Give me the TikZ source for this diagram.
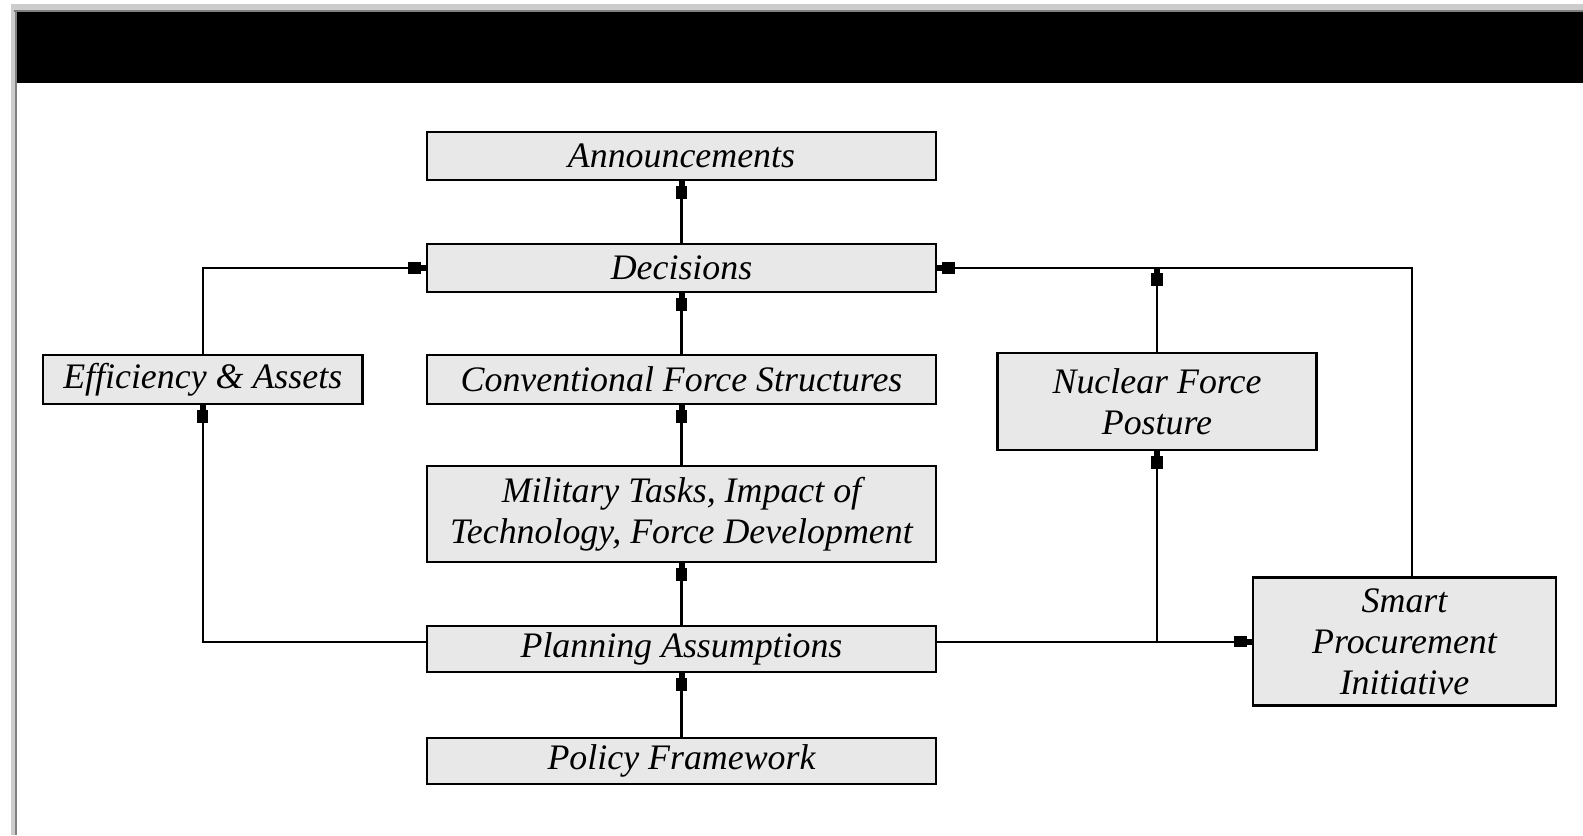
\documentclass[tikz,border=0pt]{standalone}
\usepackage{fontspec}
\setmainfont{Liberation Serif}
\usetikzlibrary{arrows.meta}

\begin{document}
\begin{tikzpicture}[x=0.01cm, y=-0.01cm,
        block/.style={draw, line width=0.7pt, fill=black!9, inner sep=0pt, align=center,
            font=\fontsize{10.2}{11.6}\selectfont\itshape},
        wide_block/.style={block, minimum width=5.09cm},
        side_block/.style={block, minimum width=3.19cm},
        link/.style={line width=0.6pt,
            -{Rectangle[length=3.6pt,width=3.2pt]Rectangle[length=1.4pt,width=1.7pt]}}
    ]
    \useasboundingbox (0,0) rectangle (1583,835);

    % Window frame and title bar
    \fill[white] (0,0) rectangle (1583,835);
    \fill[black!20] (10.5,4) rectangle (1583,10);
    \fill[black!20] (10.5,4) rectangle (15,835);
    \fill[black!50] (14,10) rectangle (1583,12.3);
    \fill[black!50] (15,10) rectangle (17.3,835);
    \fill[black] (17.3,12.3) rectangle (1583,82.7);

    % Central column
    \node[wide_block, minimum height=0.48cm] (ann) at (681.5,156) {Announcements};
    \node[wide_block, minimum height=0.48cm] (dec) at (681.5,268) {Decisions};
    \node[wide_block, minimum height=0.49cm] (conv) at (681.5,379.5) {Conventional Force Structures};
    \node[wide_block, minimum height=0.96cm] (mil) at (681.5,514) {Military Tasks, Impact of\\Technology, Force Development};
    \node[wide_block, minimum height=0.46cm] (plan) at (681.5,649) {Planning Assumptions};
    \node[wide_block, minimum height=0.46cm] (pol) at (681.5,761) {Policy Framework};

    % Side boxes
    \node[side_block, minimum height=0.49cm] (eff) at (202.7,379.5) {Efficiency \& Assets};
    \node[side_block, minimum height=0.97cm] (nuc) at (1157,401.5) {Nuclear Force\\Posture};
    \node[block, minimum width=3.03cm, minimum height=1.28cm] (smart) at (1404.5,641.6) {Smart\\Procurement\\Initiative};

    % Vertical links
    \draw[link] (dec) -- (ann);
    \draw[link] (conv) -- (dec);
    \draw[link] (mil) -- (conv);
    \draw[link] (plan) -- (mil);
    \draw[link] (pol) -- (plan);

    % Left loop
    \draw[link] (plan.west |- smart.west) -| (eff.south);
    \draw[link] (eff.north) |- (dec.west);

    % Right loop
    \draw[link] (plan.east |- smart.west) -- (smart.west);
    \draw[link] (nuc.south |- smart.west) -- (nuc.south);
    \draw[link] (nuc.north) -- (nuc.north |- dec.east);
    \draw[link] ([xshift=2pt]smart.north) |- (dec.east);
\end{tikzpicture}
\end{document}
